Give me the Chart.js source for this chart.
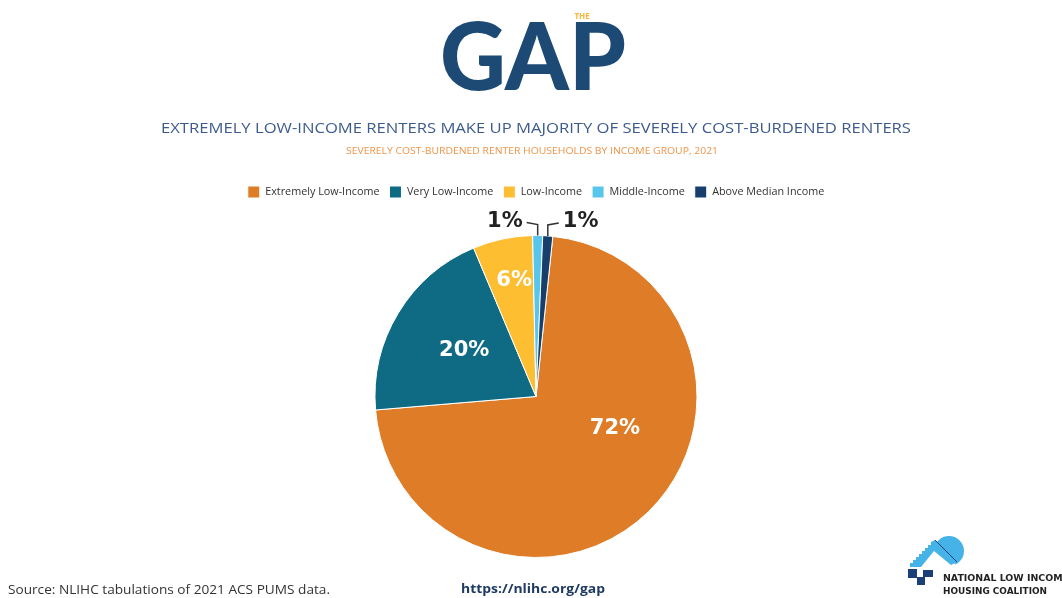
<!DOCTYPE html>
<html>
<head>
<meta charset="utf-8">
<script src="https://cdn.jsdelivr.net/npm/chart.js@4"></script>
<style>
  html, body { margin: 0; padding: 0; background: #fff; }
  #wrap { position: relative; width: 1062px; height: 598px; overflow: hidden; }
  #chart { position: absolute; left: 0; top: 0; }
  #overlay { position: absolute; left: 0; top: 0; pointer-events: none; }
</style>
</head>
<body>
<div id="wrap">
  <canvas id="chart" width="1062" height="598"></canvas>
  <svg id="overlay" width="1062" height="598" xmlns="http://www.w3.org/2000/svg">
    <!-- header -->
    <text x="533" y="90" text-anchor="middle" font-family="Lato, 'Open Sans', sans-serif" font-weight="900" font-size="94" fill="#1c4a75" textLength="186" lengthAdjust="spacingAndGlyphs">GAP</text>
    <text x="582" y="19" text-anchor="middle" font-family="'Open Sans', sans-serif" font-weight="700" font-size="8" fill="#f5b735">THE</text>
    <text x="536" y="133" text-anchor="middle" font-family="'Open Sans', sans-serif" font-size="15" fill="#3d5a8e" textLength="750" lengthAdjust="spacingAndGlyphs">EXTREMELY LOW-INCOME RENTERS MAKE UP MAJORITY OF SEVERELY COST-BURDENED RENTERS</text>
    <text x="532" y="154" text-anchor="middle" font-family="'Open Sans', sans-serif" font-size="9.5" fill="#ee9448" textLength="372" lengthAdjust="spacingAndGlyphs">SEVERELY COST-BURDENED RENTER HOUSEHOLDS BY INCOME GROUP, 2021</text>
    <!-- footer -->
    <text x="8" y="594" font-family="'Open Sans', sans-serif" font-size="13" fill="#333" textLength="322" lengthAdjust="spacingAndGlyphs">Source: NLIHC tabulations of 2021 ACS PUMS data.</text>
    <text x="533" y="593" text-anchor="middle" font-family="'Open Sans', sans-serif" font-weight="700" font-size="12.5" fill="#1f3b64" textLength="144" lengthAdjust="spacingAndGlyphs">https://nlihc.org/gap</text>
    <!-- NLIHC logo -->
    <circle cx="949" cy="551" r="15" fill="#45b3e7"/>
    <polygon points="929,538 972,581 900,581 900,560" fill="#fff"/>
    <polygon points="910,567 910,563 913,563 913,560 916,560 916,557 919,557 919,554 922,554 922,551 925,551 925,548 928,548 928,545 931,545 931,542 935,540 957,562 951,565 934,551 921,567" fill="#45b3e7"/>
    <line x1="935" y1="540" x2="957" y2="562" stroke="#1c3f77" stroke-width="1"/>
    <rect x="908" y="569" width="9" height="9" fill="#1c3f77"/>
    <rect x="923" y="570" width="10" height="7" fill="#1c3f77"/>
    <rect x="917" y="577" width="8" height="8" fill="#1c3f77"/>
    <text x="943" y="581" font-family="'DejaVu Sans', sans-serif" font-weight="700" font-size="8.5" fill="#222" textLength="126" lengthAdjust="spacingAndGlyphs">NATIONAL LOW INCOME</text>
    <text x="943" y="594" font-family="'DejaVu Sans', sans-serif" font-weight="700" font-size="8.5" fill="#222" textLength="104" lengthAdjust="spacingAndGlyphs">HOUSING COALITION</text>
  </svg>
</div>
<script>
// income groups and share of severely cost-burdened renter households (%)
const groups = ['Extremely Low-Income', 'Very Low-Income', 'Low-Income', 'Middle-Income', 'Above Median Income'];
const shares = [72, 20, 6, 1, 1];
const sliceColors = ['#de7c28', '#0f6b84', '#fdbe32', '#58c6ea', '#163f6b'];

// where each percentage label sits: fraction along the slice, fraction of radius,
// leader side for the tiny slices (0 = inside the slice)
const labelStyle = {
    along: [0.41, 0.52, 0.56, 0.5, 0.5],
    radius: [0.53, 0.53, 0.73, 1, 1],
    leader: [0, 0, 0, -1, 1]
};

const sliceLabels = {
    id: 'sliceLabels',
    afterDatasetsDraw(chart) {
        const ctx = chart.ctx;
        const meta = chart.getDatasetMeta(0);
        meta.data.forEach((arc, i) => {
            const p = arc.getProps(['x', 'y', 'startAngle', 'endAngle', 'outerRadius'], true);
            const a = p.startAngle + (p.endAngle - p.startAngle) * labelStyle.along[i];
            const r = p.outerRadius * labelStyle.radius[i];
            const txt = shares[i] + '%';
            ctx.save();
            ctx.font = 'bold 21px "DejaVu Sans"';
            ctx.textAlign = 'center';
            ctx.textBaseline = 'middle';
            if (labelStyle.leader[i] === 0) {
                ctx.fillStyle = '#fff';
                ctx.fillText(txt, p.x + Math.cos(a) * r, p.y + Math.sin(a) * r);
            } else {
                const side = labelStyle.leader[i];
                const ax = p.x + Math.cos(a) * r, ay = p.y + Math.sin(a) * r;
                const bx = ax, by = ay - 11;
                const cx = bx + side * 11, cy = by - 2;
                ctx.strokeStyle = '#333';
                ctx.lineWidth = 1.5;
                ctx.beginPath();
                ctx.moveTo(ax, ay);
                ctx.lineTo(bx, by);
                ctx.lineTo(cx, cy);
                ctx.stroke();
                ctx.fillStyle = '#222';
                const w = ctx.measureText(txt).width;
                ctx.fillText(txt, cx + side * (4 + w / 2), cy - 1);
            }
            ctx.restore();
        });
    }
};

const ctx = document.getElementById('chart').getContext('2d');
new Chart(ctx, {
    type: 'pie',
    data: {
        labels: groups,
        datasets: [{
            data: shares,
            backgroundColor: sliceColors,
            borderColor: '#fff',
            borderWidth: 1,
            radius: 161
        }]
    },
    options: {
        responsive: false,
        animation: false,
        rotation: 6,
        layout: { padding: { top: 176, bottom: 13, left: 10, right: 0 } },
        plugins: {
            legend: {
                position: 'top',
                labels: {
                    boxWidth: 12,
                    boxHeight: 12,
                    padding: 10,
                    color: '#333',
                    font: { family: '"Open Sans"', size: 10.8 }
                }
            },
            tooltip: { enabled: false }
        }
    },
    plugins: [sliceLabels]
});
</script>
</body>
</html>
